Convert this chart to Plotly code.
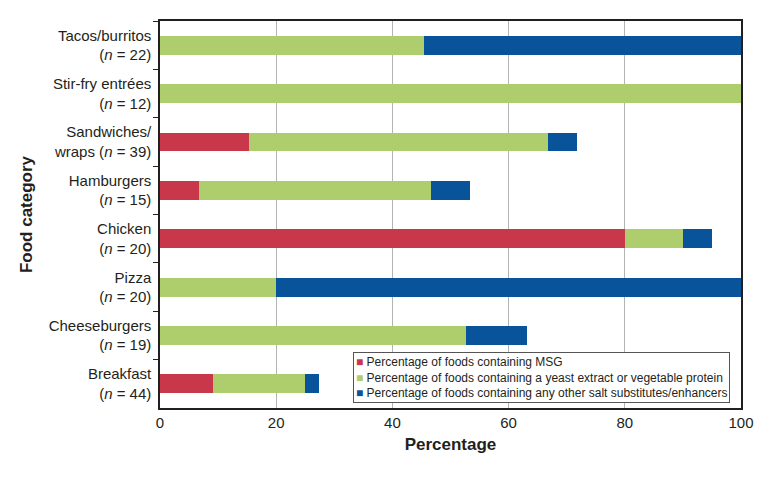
import plotly.graph_objects as go

# food categories, top to bottom as in the figure
categories = ['Tacos/burritos<br>(<i>n</i> = 22)',
              'Stir-fry entrées<br>(<i>n</i> = 12)',
              'Sandwiches/<br>wraps (<i>n</i> = 39)',
              'Hamburgers<br>(<i>n</i> = 15)',
              'Chicken<br>(<i>n</i> = 20)',
              'Pizza<br>(<i>n</i> = 20)',
              'Cheeseburgers<br>(<i>n</i> = 19)',
              'Breakfast<br>(<i>n</i> = 44)']

msg = [0, 0, 15.4, 6.7, 80, 0, 0, 9.1]
yeast_veg = [45.5, 100, 51.3, 40, 10, 20, 52.6, 15.9]
other_salt = [54.5, 0, 5.1, 6.7, 5, 80, 10.5, 2.3]

series_names = ['Percentage of foods containing MSG',
                'Percentage of foods containing a yeast extract or vegetable protein',
                'Percentage of foods containing any other salt substitutes/enhancers']
colors = ['#c9374b', '#aecd6c', '#09539a']

fig = go.Figure()
for name, vals, col in zip(series_names, [msg, yeast_veg, other_salt], colors):
    fig.add_trace(go.Bar(
        x=vals, y=categories, orientation='h', name=name,
        marker=dict(color=col, line=dict(width=0)),
        width=0.39,
    ))

# compact legend box like the original (small squares close to the text)
legend_text = '<br>'.join(
    '<span style="color:%s">■</span> %s' % (c, n) for n, c in zip(series_names, colors))
fig.add_annotation(
    text=legend_text, xref='paper', yref='paper', x=0.332, y=0.145,
    xanchor='left', yanchor='top', align='left', showarrow=False,
    font=dict(size=12), bgcolor='white', bordercolor='#555555', borderwidth=1,
    borderpad=2,
)

# page body has an 8px margin, so margins are shifted to compensate
fig.update_layout(
    barmode='stack',
    width=782, height=480,
    margin=dict(l=152, r=49, t=13, b=80),
    plot_bgcolor='white', paper_bgcolor='white',
    font=dict(family='Liberation Sans, Arial', size=15, color='#231f20'),
    showlegend=False,
)

fig.update_xaxes(
    range=[0, 100], dtick=20, showgrid=True, gridcolor='#b3b3b3', gridwidth=1,
    showline=True, linecolor='#231f20', linewidth=1.5, mirror=True,
    ticks='', zeroline=False, automargin=False,
    title=dict(text='<b>Percentage</b>', font=dict(size=17), standoff=8),
)
fig.update_yaxes(
    autorange='reversed', showgrid=False, automargin=False,
    showline=True, linecolor='#231f20', linewidth=1.5, mirror=True,
    ticks='outside', ticklen=5, tickcolor='#231f20', tickson='boundaries',
    ticklabelstandoff=4,
    title=dict(text='<b>Food category</b>', font=dict(size=17), standoff=12),
)

fig.write_html("out.html")
